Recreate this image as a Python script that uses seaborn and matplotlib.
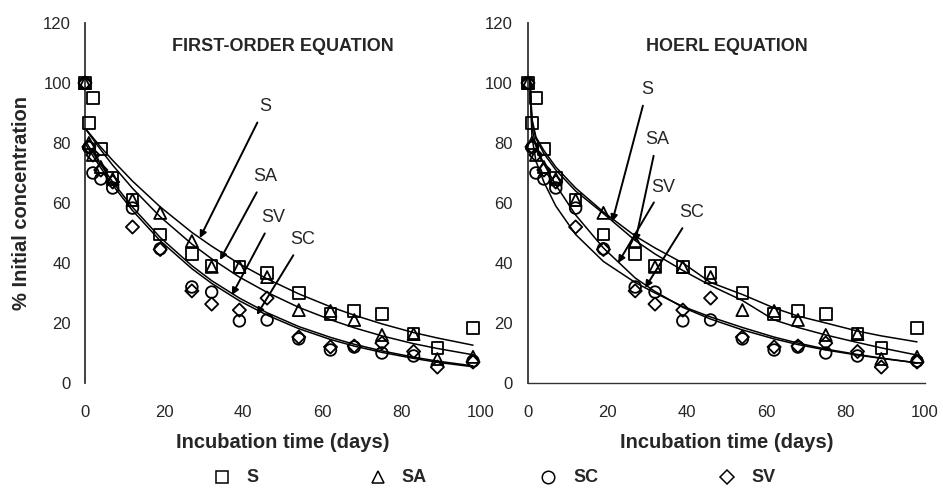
import numpy as np
import pandas as pd
import matplotlib
matplotlib.use("Agg")
import matplotlib.pyplot as plt
from matplotlib.lines import Line2D
import seaborn as sns

# ---------------- data ----------------
series_names = ["S", "SA", "SC", "SV"]
markers = {"S": "s", "SA": "^", "SC": "o", "SV": "D"}
marker_sizes = {"S": 70, "SA": 75, "SC": 70, "SV": 45}

obs_time = [0, 1, 2, 4, 7, 12, 19, 27, 32, 39, 46, 54, 62, 68, 75, 83, 89, 98]
obs_S  = [100, 86.7, 95, 78, 68.5, 61, 49.5, 43, 39, 38.7, 36.7, 30, 23, 24, 23, 16.5, 11.7, 18.3]
obs_SA = [100, 80, 76, 72, 68, 61, 56.7, 47.3, 38.7, 38.7, 35.3, 24.3, 24, 21, 16, 16.3, 8, 8.7]
obs_SC = [100, 78.5, 70, 68, 65, 58.3, 44.7, 32, 30.3, 20.7, 21, 14.7, 11, 12, 10, 9, np.nan, 7.3]
obs_SV = [100, 78.7, 76, 71, 67, 52, 44.5, 30.7, 26.3, 24.3, 28.3, 15.3, 12, 12.3, 13.3, 10.5, 5.3, 7]

# fitted curves, first-order equation (left panel)
fo_time = [0, 1, 2, 4, 7, 12, 19, 27, 32, 39, 46, 54, 62, 68, 75, 83, 89, 98]
fo_S  = [85, 83.4, 81.8, 78.6, 74.2, 67.3, 58.7, 50.2, 45.6, 39.7, 34.7, 29.7, 25.4, 22.6, 19.7, 16.8, 15.0, 12.6]
fo_SA = [85, 83.1, 81.3, 77.7, 72.6, 64.9, 55.4, 46.3, 41.4, 35.3, 30.2, 25.2, 21.1, 18.4, 15.7, 13.1, 11.5, 9.4]
fo_SC = [80, 77.8, 75.7, 71.7, 66.0, 57.5, 47.4, 38.1, 33.2, 27.4, 22.6, 18.1, 14.5, 12.3, 10.2, 8.2, 6.9, 5.4]
fo_SV = [81, 78.8, 76.8, 72.7, 67.0, 58.6, 48.5, 39.1, 34.1, 28.3, 23.4, 18.8, 15.2, 12.9, 10.7, 8.6, 7.3, 5.7]

# fitted curves, Hoerl equation (right panel)
ho_time = [0.5, 1, 2, 4, 7, 12, 19, 27, 32, 39, 46, 54, 62, 68, 75, 83, 89, 98]
ho_S  = [101, 88, 82, 77.5, 72, 65, 57, 49, 45, 40, 33.5, 29.5, 25, 22.3, 20, 17.3, 15.7, 13.7]
ho_SA = [101, 87, 81.5, 76.5, 71, 64, 56.5, 47.5, 43, 37.5, 32.5, 27.5, 21, 18.5, 16, 13.5, 11.7, 9.3]
ho_SC = [101, 85, 79, 73, 66, 56, 45, 35, 30.5, 25.2, 21.3, 17.7, 14.7, 12.8, 11, 9.3, 8.2, 6.7]
ho_SV = [101, 82, 74, 67, 59, 49.5, 40.5, 33.5, 30, 25.5, 22, 18.5, 15.3, 13.3, 11.3, 9.5, 8.3, 6.7]

x_ticks = [0, 20, 40, 60, 80, 100]
y_ticks = [0, 20, 40, 60, 80, 100, 120]

panel_titles = ["FIRST-ORDER EQUATION", "HOERL EQUATION"]
x_label = "Incubation time (days)"
y_label = "% Initial concentration"

# label (x, y) and arrow tip (x, y) in data units
fo_annot = {"S": ((45.5, 92), (29, 48.3)), "SA": ((45.5, 68.7), (34.1, 41)),
            "SV": ((47.5, 55), (37.1, 29.3)), "SC": ((55, 47.7), (43.4, 22.7))}
ho_annot = {"S": ((30, 97.7), (21.2, 53.7)), "SA": ((32.5, 81), (27, 47)),
            "SV": ((34, 65.3), (22.7, 40)), "SC": ((41.3, 56.7), (29.5, 31.7))}

# ---------------- build tables ----------------
obs = pd.DataFrame({"time": obs_time * 4,
                    "value": obs_S + obs_SA + obs_SC + obs_SV,
                    "series": sum([[n] * len(obs_time) for n in series_names], [])}).dropna()
fo = pd.DataFrame({"time": fo_time * 4, "value": fo_S + fo_SA + fo_SC + fo_SV,
                   "series": sum([[n] * len(fo_time) for n in series_names], [])})
ho = pd.DataFrame({"time": ho_time * 4, "value": ho_S + ho_SA + ho_SC + ho_SV,
                   "series": sum([[n] * len(ho_time) for n in series_names], [])})

sns.set_style("white")
plt.rcParams["font.family"] = ["Liberation Sans", "DejaVu Sans"]

fig = plt.figure(figsize=(9.43, 4.91), dpi=100)
axL = fig.add_axes([0.0901, 0.2200, 0.4199, 0.7332])
axR = fig.add_axes([0.5599, 0.2200, 0.4210, 0.7332])

for ax, fit, annot, title in [(axL, fo, fo_annot, panel_titles[0]),
                              (axR, ho, ho_annot, panel_titles[1])]:
    sns.lineplot(data=fit, x="time", y="value", units="series", estimator=None,
                 sort=False, color="black", lw=1.1, ax=ax, legend=False)
    for n in series_names:
        sub = obs[obs.series == n]
        sns.scatterplot(x=sub["time"], y=sub["value"], marker=markers[n],
                        s=marker_sizes[n], fc="none", ec="black", linewidth=1.3,
                        ax=ax, legend=False, clip_on=False, zorder=3)
    for n, (lab, tip) in annot.items():
        ax.annotate(n, xy=tip, xytext=lab, ha="center", va="center", fontsize=13,
                    arrowprops=dict(arrowstyle="-|>", color="black", lw=1.4,
                                    mutation_scale=10, shrinkA=3, shrinkB=0))
    ax.text(50, 112, title, ha="center", va="center", fontsize=13, fontweight="bold")
    ax.set_xlim(0, 100)
    ax.set_ylim(0, 120)
    ax.set_xticks(x_ticks)
    ax.set_yticks(y_ticks)
    ax.set_xticklabels([str(v) for v in x_ticks], fontsize=12)
    ax.set_yticklabels([str(v) for v in y_ticks], fontsize=12)
    ax.set_xlabel(x_label, fontsize=14.5, fontweight="bold", labelpad=9)
    ax.set_ylabel("")
    for s in ["top", "right"]:
        ax.spines[s].set_visible(False)
    ax.spines["left"].set_color("#333333")
    ax.spines["left"].set_linewidth(1.3)
    ax.spines["bottom"].set_color("#333333")
    ax.spines["bottom"].set_linewidth(1.0)
    ax.tick_params(axis="x", direction="out", length=5, width=0.8, color="#333333", pad=11)

axL.spines["bottom"].set_visible(False)
axL.tick_params(axis="y", length=0, pad=10)
axR.tick_params(axis="y", direction="out", length=8, width=0.8, color="#333333", pad=3)
axL.set_ylabel(y_label, fontsize=14.5, fontweight="bold", labelpad=9)

# legend row at the bottom (marker + bold label), placed in figure coordinates
legend_marker_x = [222, 378, 548, 727]
legend_text_x = [246, 401, 573, 751]
legend_y = 1 - 477 / 491
for n, mx, tx in zip(series_names, legend_marker_x, legend_text_x):
    fig.add_artist(Line2D([mx / 943], [legend_y], transform=fig.transFigure,
                          marker=markers[n], ls="none", mfc="none", mec="black",
                          mew=1.1, ms=9 if n != "SV" else 7.5))
    fig.text(tx / 943, legend_y, n, ha="left", va="center", fontsize=13,
             fontweight="bold")

fig.savefig("out.png", dpi=100)
